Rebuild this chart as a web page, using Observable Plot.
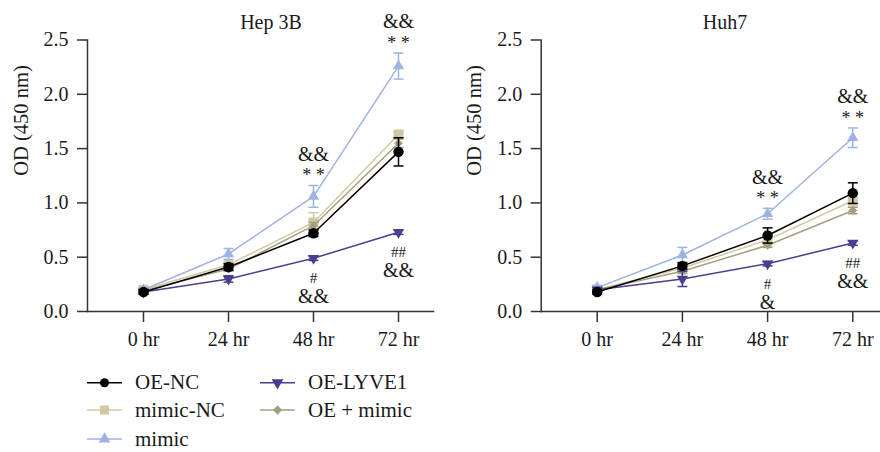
<!DOCTYPE html>
<html><head><meta charset="utf-8">
<script src="https://cdn.jsdelivr.net/npm/d3@7"></script>
<script src="https://cdn.jsdelivr.net/npm/@observablehq/plot@0.6"></script>
<style>
body{margin:0;background:#fff;font-family:"Liberation Serif","Times New Roman",serif;}
#wrap{position:relative;width:880px;height:452px;overflow:hidden;background:#fff;}
#wrap > svg{position:absolute;}
</style>
</head><body><div id="wrap"></div>
<script>
// ---------- data ----------
const times = [0, 1, 2, 3];
const timeLabels = ["0 hr", "24 hr", "48 hr", "72 hr"];
const yTicks = [0, 0.5, 1.0, 1.5, 2.0, 2.5];
const seriesNames = ["OE-NC", "mimic-NC", "mimic", "OE-LYVE1", "OE + mimic"];

// Hep 3B
const hepOENC       = [0.18, 0.41, 0.72, 1.47];
const hepOENCErr    = [0.02, 0.03, 0.03, 0.13];
const hepMimicNC    = [0.20, 0.43, 0.82, 1.63];
const hepMimicNCErr = [0.02, 0.02, 0.09, 0.03];
const hepMimic      = [0.20, 0.53, 1.06, 2.26];
const hepMimicErr   = [0.02, 0.05, 0.10, 0.12];
const hepLYVE1      = [0.18, 0.30, 0.49, 0.73];
const hepLYVE1Err   = [0.02, 0.03, 0.02, 0.02];
const hepOEMimic    = [0.19, 0.39, 0.79, 1.55];
const hepOEMimicErr = [0.02, 0.02, 0.03, 0.04];

// Huh7
const huhOENC       = [0.18, 0.42, 0.70, 1.09];
const huhOENCErr    = [0.02, 0.03, 0.07, 0.095];
const huhMimicNC    = [0.20, 0.40, 0.66, 1.02];
const huhMimicNCErr = [0.02, 0.02, 0.04, 0.06];
const huhMimic      = [0.22, 0.52, 0.90, 1.60];
const huhMimicErr   = [0.02, 0.07, 0.05, 0.09];
const huhLYVE1      = [0.20, 0.30, 0.44, 0.63];
const huhLYVE1Err   = [0.02, 0.07, 0.02, 0.02];
const huhOEMimic    = [0.20, 0.37, 0.61, 0.93];
const huhOEMimicErr = [0.02, 0.02, 0.02, 0.03];

// significance annotations
const hepUpperTimes = [2, 3];
const hepUpperTop   = ["&&", "&&"];
const hepUpperMid   = ["* *", "* *"];
const hepLowerTimes = [2, 3];
const hepLowerTop   = ["#", "##"];
const hepLowerBot   = ["&&", "&&"];

const huhUpperTimes = [2, 3];
const huhUpperTop   = ["&&", "&&"];
const huhUpperMid   = ["* *", "* *"];
const huhLowerTimes = [2, 3];
const huhLowerTop   = ["#", "##"];
const huhLowerBot   = ["&", "&&"];

// ---------- styles ----------
const seriesColors = ["#000000", "#d1c8a3", "#9db4e0", "#4a3f8f", "#a69f7e"];
const triangleDown = {
  draw(ctx, size) {
    const y = -Math.sqrt(size / (Math.sqrt(3) * 3));
    ctx.moveTo(0, -y * 2);
    ctx.lineTo(-Math.sqrt(3) * y, y);
    ctx.lineTo(Math.sqrt(3) * y, y);
    ctx.closePath();
  }
};
const capSymbol = {
  draw(ctx, size) {
    const w = Math.sqrt(size / Math.PI);
    ctx.moveTo(-w, 0);
    ctx.lineTo(w, 0);
  }
};
const seriesSymbols = [d3.symbolCircle, d3.symbolSquare, d3.symbolTriangle, triangleDown, d3.symbolDiamond2];
const seriesR = [5.2, 5.6, 4.2, 4.2, 4];
const drawOrder = [1, 4, 2, 3, 0];
const FONT = "Liberation Serif";
const AXIS = "#333333";
const TEXT = "#1a1a1a";

function panel(cfg) {
  const marks = [
    Plot.frame({anchor: "left", stroke: AXIS, strokeWidth: 1.5}),
    Plot.frame({anchor: "bottom", stroke: AXIS, strokeWidth: 1.5}),
    Plot.axisY({ticks: yTicks, tickFormat: d => d.toFixed(1), tickSize: 10, tickPadding: 9,
      label: null, stroke: AXIS, strokeWidth: 1.5, fill: TEXT, fontSize: 20, fontFamily: FONT}),
    Plot.axisX({ticks: times, tickFormat: i => timeLabels[i], tickSize: 11, tickPadding: 9,
      label: null, stroke: AXIS, strokeWidth: 1.5, fill: TEXT, fontSize: 20, fontFamily: FONT}),
    Plot.text([cfg.title], {x: d3.mean(times), frameAnchor: "top", text: d => d, lineAnchor: "bottom",
      dy: -11, fontSize: 20, fill: TEXT, fontFamily: FONT}),
    Plot.text(["OD (450 nm)"], {frameAnchor: "left", text: d => d, rotate: -90, dx: cfg.labelDx,
      fontSize: 20.5, fill: TEXT, fontFamily: FONT})
  ];
  for (const s of drawOrder) {
    const rows = times.map((t, i) => ({t, v: cfg.vals[s][i], e: cfg.errs[s][i]}));
    const c = seriesColors[s];
    marks.push(Plot.line(rows, {x: "t", y: "v", stroke: c, strokeWidth: 1.5}));
    marks.push(Plot.ruleX(rows, {x: "t", y1: d => d.v - d.e, y2: d => d.v + d.e, stroke: c, strokeWidth: 1.5}));
    marks.push(Plot.dot(rows, {x: "t", y: d => d.v + d.e, symbol: capSymbol, r: 5, stroke: c, strokeWidth: 1.5, fill: "none"}));
    marks.push(Plot.dot(rows, {x: "t", y: d => d.v - d.e, symbol: capSymbol, r: 5, stroke: c, strokeWidth: 1.5, fill: "none"}));
    marks.push(Plot.dot(rows, {x: "t", y: "v", symbol: seriesSymbols[s], r: seriesR[s], fill: c, stroke: "none"}));
  }
  const mim = 2, lyve = 3;
  const upper = cfg.upperTimes.map((t, k) => ({t, y: cfg.vals[mim][t] + cfg.errs[mim][t], a: cfg.upperTop[k], b: cfg.upperMid[k]}));
  const lower = cfg.lowerTimes.map((t, k) => ({t, y: cfg.vals[lyve][t], a: cfg.lowerTop[k], b: cfg.lowerBot[k]}));
  marks.push(Plot.text(upper, {x: "t", y: "y", text: "a", dy: -31, fontSize: 20, fill: TEXT, fontFamily: FONT}));
  marks.push(Plot.text(upper, {x: "t", y: "y", text: "b", dy: -10, fontSize: 18, fill: TEXT, fontFamily: FONT}));
  marks.push(Plot.text(lower, {x: "t", y: "y", text: "a", dy: 20, fontSize: 15, fill: TEXT, fontFamily: FONT}));
  marks.push(Plot.text(lower, {x: "t", y: "y", text: "b", dy: 38.5, fontSize: 20, fill: TEXT, fontFamily: FONT}));

  const svg = Plot.plot({
    width: 440, height: 360,
    marginLeft: cfg.marginLeft, marginRight: cfg.marginRight, marginTop: 39.5, marginBottom: 49,
    x: {type: "linear", domain: [0, 3], insetLeft: 56, insetRight: cfg.insetRight},
    y: {domain: [0, 2.5]},
    style: {fontFamily: "'Liberation Serif', serif", fontSize: "20px", background: "transparent", overflow: "visible"},
    marks
  });
  svg.style.left = cfg.left + "px";
  svg.style.top = "0px";
  return svg;
}

const wrap = document.getElementById("wrap");
wrap.appendChild(panel({
  title: "Hep 3B", left: 0, marginLeft: 87, marginRight: 7, insetRight: 35, labelDx: -66,
  vals: [hepOENC, hepMimicNC, hepMimic, hepLYVE1, hepOEMimic],
  errs: [hepOENCErr, hepMimicNCErr, hepMimicErr, hepLYVE1Err, hepOEMimicErr],
  upperTimes: hepUpperTimes, upperTop: hepUpperTop, upperMid: hepUpperMid,
  lowerTimes: hepLowerTimes, lowerTop: hepLowerTop, lowerBot: hepLowerBot
}));
wrap.appendChild(panel({
  title: "Huh7", left: 440, marginLeft: 100.7, marginRight: 0, insetRight: 27.7, labelDx: -67,
  vals: [huhOENC, huhMimicNC, huhMimic, huhLYVE1, huhOEMimic],
  errs: [huhOENCErr, huhMimicNCErr, huhMimicErr, huhLYVE1Err, huhOEMimicErr],
  upperTimes: huhUpperTimes, upperTop: huhUpperTop, upperMid: huhUpperMid,
  lowerTimes: huhLowerTimes, lowerTop: huhLowerTop, lowerBot: huhLowerBot
}));

// ---------- legend ----------
const legendCols = [0, 0, 0, 1, 1];
const legendRows = [0, 1, 2, 0, 1];
const legendSizes = [64, 81, 60, 60, 55];
const leg = d3.create("svg").attr("width", 880).attr("height", 92)
  .style("left", "0px").style("top", "360px");
seriesNames.forEach((name, s) => {
  const x0 = [87, 260][legendCols[s]];
  const y0 = [22.7, 50, 79][legendRows[s]];
  const g = leg.append("g").attr("transform", `translate(${x0},${y0})`);
  g.append("line").attr("x1", 0).attr("x2", 35).attr("y1", 0).attr("y2", 0)
    .attr("stroke", seriesColors[s]).attr("stroke-width", 1.5);
  g.append("path").attr("transform", "translate(17.5,0)")
    .attr("d", d3.symbol().type(seriesSymbols[s]).size(legendSizes[s])())
    .attr("fill", seriesColors[s]);
  g.append("text").attr("x", 48).attr("y", 0).attr("dy", "0.32em")
    .attr("font-family", FONT).attr("font-size", 21)
    .attr("fill", TEXT).text(name);
});
wrap.appendChild(leg.node());
</script>
</body></html>
